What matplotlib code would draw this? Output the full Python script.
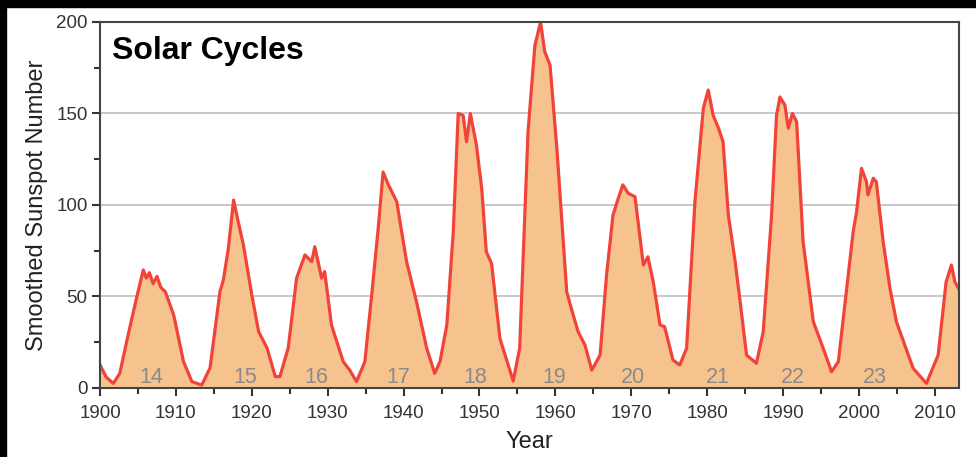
import matplotlib
matplotlib.use("Agg")
import matplotlib.pyplot as plt
from matplotlib.patches import Rectangle
from matplotlib.ticker import MultipleLocator

plt.rcParams['font.family'] = ['Liberation Sans', 'DejaVu Sans']

# smoothed sunspot number
years = [1900.0, 1900.8, 1901.75, 1902.6, 1903.7, 1904.8, 1905.7, 1906.1, 1906.5,
         1907.0, 1907.5, 1908.0, 1908.6, 1909.7, 1911.0, 1912.1, 1913.4, 1914.5,
         1915.8, 1916.25, 1916.9, 1917.6, 1918.2, 1918.9, 1920.0, 1920.9, 1922.0,
         1923.1, 1923.7, 1924.8, 1925.9, 1927.0, 1927.9, 1928.3, 1929.2, 1929.6,
         1930.5, 1932.05, 1932.9, 1933.8, 1934.9, 1935.8, 1936.7, 1937.3, 1938.0,
         1939.1, 1940.4, 1941.7, 1943.05, 1944.1, 1944.8, 1945.7, 1946.55, 1947.2,
         1947.85, 1948.3, 1948.8, 1949.6, 1950.3, 1950.9, 1951.6, 1952.7, 1954.45,
         1955.3, 1956.4, 1957.3, 1958.05, 1958.6, 1959.3, 1960.2, 1960.8, 1961.5,
         1962.1, 1963.0, 1963.9, 1964.8, 1965.9, 1966.75, 1967.6, 1968.3, 1968.9,
         1969.6, 1970.5, 1971.6, 1972.2, 1972.9, 1973.8, 1974.4, 1975.5, 1976.4,
         1977.3, 1978.4, 1979.5, 1980.15, 1980.8, 1981.5, 1982.1, 1982.8, 1983.7,
         1984.3, 1985.2, 1986.5, 1987.4, 1988.5, 1989.15, 1989.6, 1990.25, 1990.7,
         1991.25, 1991.8, 1992.65, 1994.0, 1995.3, 1996.4, 1997.3, 1998.4, 1999.25,
         1999.7, 2000.35, 2001.0, 2001.2, 2001.9, 2002.3, 2003.2, 2004.1, 2004.95,
         2006.05, 2007.15, 2008.9, 2010.45, 2011.5, 2012.2, 2012.65, 2013.2]
ssn = [12.6, 6.0, 2.5, 8.0, 29.0, 49.0, 64.5, 60.0, 63.0,
       57.0, 61.0, 55.0, 52.6, 40.0, 14.4, 3.5, 1.6, 11.0,
       52.6, 59.0, 76.0, 102.7, 91.0, 78.0, 50.8, 30.8, 21.9,
       6.2, 6.2, 21.9, 60.0, 72.7, 69.0, 77.2, 60.0, 63.6,
       34.4, 14.4, 9.8, 3.5, 14.4, 50.8, 89.0, 118.0, 111.0,
       101.8, 69.0, 47.2, 21.7, 8.0, 14.4, 34.4, 85.4, 150.0,
       149.0, 134.6, 150.0, 132.8, 109.0, 74.5, 68.0, 27.0, 3.8,
       21.7, 140.0, 187.0, 200.0, 183.8, 176.5, 131.0, 94.5, 52.6,
       43.5, 30.8, 23.5, 9.8, 18.0, 61.7, 94.5, 103.7, 111.0,
       106.4, 104.5, 67.2, 71.7, 58.0, 34.4, 33.5, 15.3, 12.6,
       21.7, 101.8, 152.8, 162.8, 149.0, 142.0, 134.6, 94.5, 69.0,
       49.0, 18.0, 13.5, 30.8, 94.5, 149.0, 159.0, 154.6, 142.0,
       150.0, 145.5, 80.0, 36.2, 21.7, 8.9, 14.4, 54.5, 85.4,
       96.3, 120.0, 112.7, 105.5, 114.6, 112.7, 80.0, 54.5, 36.2,
       23.5, 10.8, 2.5, 18.0, 58.0, 67.2, 58.0, 54.0]

cycle_names = ['14', '15', '16', '17', '18', '19', '20', '21', '22', '23']
cycle_pos = [1906.8, 1919.1, 1928.5, 1939.3, 1949.4, 1959.9, 1970.2, 1981.4, 1991.3, 2002.1]

fig = plt.figure(figsize=(9.76, 4.57), dpi=100, facecolor='white')
ax = fig.add_axes([0.1025, 0.151, 0.8801, 0.8009])

ax.fill_between(years, ssn, 0, color='#F6C38F', zorder=2)
ax.plot(years, ssn, color='#F2433A', lw=2.3, zorder=3)

for name, x in zip(cycle_names, cycle_pos):
    ax.text(x, 2.5, name, ha='center', va='baseline', fontsize=15.5, color='#8a8a8a', zorder=4)

ax.set_xlim(1900, 2013.2)
ax.set_ylim(0, 200)
ax.xaxis.set_major_locator(MultipleLocator(10))
ax.xaxis.set_minor_locator(MultipleLocator(5))
ax.yaxis.set_major_locator(MultipleLocator(50))
ax.yaxis.set_minor_locator(MultipleLocator(25))
ax.yaxis.grid(True, which='major', color='#c4c4c4', lw=1.3, zorder=1)
ax.tick_params(which='major', direction='out', length=6, width=1.5, color='#333333',
               labelsize=13.5, labelcolor='#333333', pad=3)
ax.tick_params(axis='x', which='major', pad=6)
ax.tick_params(which='minor', direction='out', length=4, width=1.5, color='#333333')
for s in ax.spines.values():
    s.set_color('#444444')
    s.set_linewidth(1.5)
    s.set_zorder(5)

ax.set_xlabel('Year', fontsize=17, color='#222222', labelpad=7)
ax.set_ylabel('Smoothed Sunspot Number', fontsize=17, color='#222222', labelpad=6)
ax.text(0.014, 0.92, 'Solar Cycles', transform=ax.transAxes, fontsize=23,
        fontweight='bold', color='black', va='center', ha='left')

# black border strips of the scanned image
fig.patches.append(Rectangle((0, 1 - 7 / 457), 1, 7 / 457, transform=fig.transFigure,
                             color='black', zorder=0))
fig.patches.append(Rectangle((0, 0), 6 / 976, 1, transform=fig.transFigure,
                             color='black', zorder=0))

fig.savefig('out.png', dpi=100, facecolor='white')
